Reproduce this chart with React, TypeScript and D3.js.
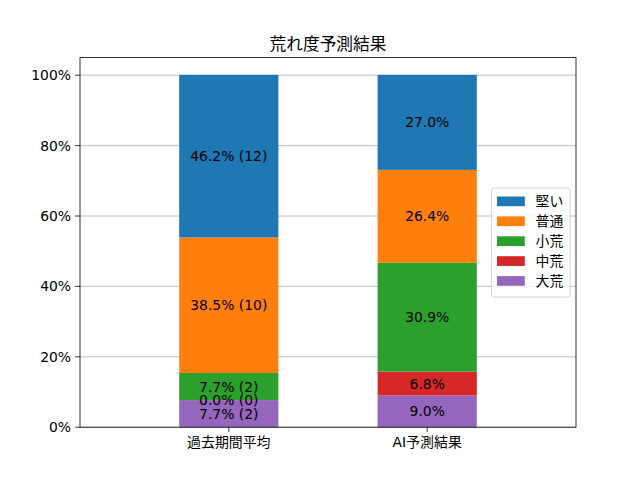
import React from "react";
import * as d3 from "d3";

const categories = ["過去期間平均", "AI予測結果"];
const seriesNames = ["大荒", "中荒", "小荒", "普通", "堅い"];
const seriesColors = ["#9467bd", "#d62728", "#2ca02c", "#ff7f0e", "#1f77b4"];
const pastValues = [7.7, 0.0, 7.7, 38.5, 46.2];
const pastCounts = [2, 0, 2, 10, 12];
const aiValues = [9.0, 6.8, 30.9, 26.4, 27.0];
const yTicks = [0, 20, 40, 60, 80, 100];
const legendOrder = ["堅い", "普通", "小荒", "中荒", "大荒"];

const W = 640;
const H = 480;
const left = 80;
const right = 576;
const top = 57.6;
const bottom = 427.2;
const FONT = "'DejaVu Sans', 'Noto Sans CJK JP', sans-serif";

export default function App() {
  const x = d3.scaleLinear().domain([-0.75, 1.75]).range([left, right]);
  const y = d3.scaleLinear().domain([0, 105]).range([bottom, top]);
  const barW = x(0.5) - x(0);

  const rows = [
    { values: pastValues, labels: pastValues.map((v, i) => `${v.toFixed(1)}% (${pastCounts[i]})`) },
    { values: aiValues, labels: aiValues.map((v) => `${v.toFixed(1)}%`) },
  ];

  const segs: any[] = [];
  rows.forEach((r, ci) => {
    let acc = 0;
    r.values.forEach((v, si) => {
      segs.push({ ci, si, y0: acc, y1: acc + v, label: r.labels[si] });
      acc += v;
    });
  });

  const legX = 491.5;
  const legY = 188;
  const legW = 78.5;
  const legH = 109;
  const rowH = 19.9;

  return (
    <svg width={W} height={H} style={{ position: "absolute", left: 0, top: 0, background: "#fff" }} fontFamily={FONT}>
      <rect x={0} y={0} width={W} height={H} fill="#fff" />
      {yTicks.map((t) => (
        <line key={"g" + t} x1={left} x2={right} y1={y(t)} y2={y(t)} stroke="#b0b0b0" strokeWidth={0.8} />
      ))}
      {segs.map((s, i) => (
        <rect
          key={"r" + i}
          x={x(s.ci) - barW / 2}
          width={barW}
          y={y(s.y1)}
          height={y(s.y0) - y(s.y1)}
          fill={seriesColors[s.si]}
        />
      ))}
      {segs.map((s, i) => (
        <text
          key={"t" + i}
          x={x(s.ci)}
          y={(y(s.y0) + y(s.y1)) / 2}
          dy="0.36em"
          textAnchor="middle"
          fontSize={13.9}
          fill="#000"
        >
          {s.label}
        </text>
      ))}
      <rect x={left} y={top} width={right - left} height={bottom - top} fill="none" stroke="#000" strokeWidth={0.8} />
      {yTicks.map((t) => (
        <g key={"y" + t}>
          <line x1={left - 4.9} x2={left} y1={y(t)} y2={y(t)} stroke="#000" strokeWidth={0.8} />
          <text x={left - 9} y={y(t)} dy="0.36em" textAnchor="end" fontSize={13.9} fill="#000">
            {`${t}%`}
          </text>
        </g>
      ))}
      {categories.map((c, i) => (
        <g key={"x" + i}>
          <line x1={x(i)} x2={x(i)} y1={bottom} y2={bottom + 4.9} stroke="#000" strokeWidth={0.8} />
          <text x={x(i)} y={447} textAnchor="middle" fontSize={13.9} fill="#000">
            {c}
          </text>
        </g>
      ))}
      <text x={(left + right) / 2} y={50} textAnchor="middle" fontSize={16.7} fill="#000">
        荒れ度予測結果
      </text>
      <rect x={legX} y={legY} width={legW} height={legH} rx={2.5} fill="#fff" fillOpacity={0.8} stroke="#cccccc" strokeWidth={0.8} />
      {legendOrder.map((name, i) => {
        const si = seriesNames.indexOf(name);
        const cy = legY + 12 + i * rowH;
        return (
          <g key={"l" + i}>
            <rect x={497} y={cy - 3.5} width={27.8} height={9.7} fill={seriesColors[si]} />
            <text x={535.5} y={cy + 1.4} dy="0.36em" fontSize={13.9} fill="#000">
              {name}
            </text>
          </g>
        );
      })}
    </svg>
  );
}
